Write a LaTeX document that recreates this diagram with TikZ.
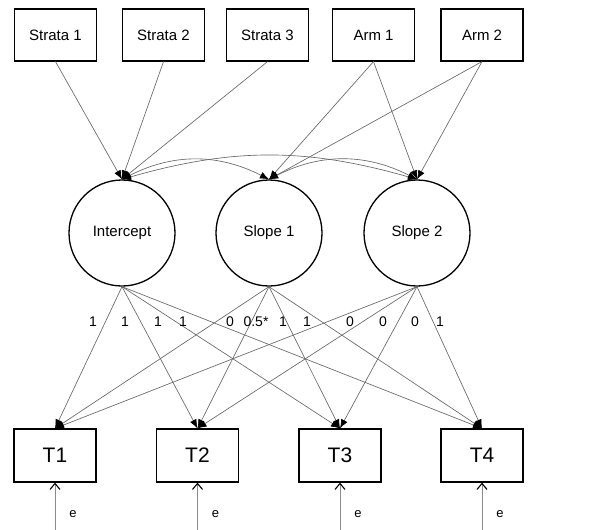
\documentclass[tikz,border=0pt]{standalone}
\usepackage{fontspec}
\setmainfont{Liberation Sans}
\usetikzlibrary{arrows.meta,calc}
\begin{document}
\begin{tikzpicture}[x=1pt,y=1pt,
  obs/.style={draw, line width=1.2pt, minimum width=82pt, minimum height=52pt, inner sep=0pt, font=\fontsize{15}{18}\selectfont},
  tobs/.style={obs, minimum height=53pt, font=\fontsize{21}{25}\selectfont},
  lat/.style={draw, circle, line width=1.3pt, minimum size=106pt, inner sep=0pt, font=\fontsize{15}{18}\selectfont},
  reg/.style={draw=black!60, line width=0.65pt, -{Latex[black,length=9pt,width=7pt]}},
  cov/.style={draw=black!60, line width=0.65pt, {Latex[black,length=9pt,width=7pt]}-{Latex[black,length=9pt,width=7pt]}},
  err/.style={draw=black!45, line width=0.8pt, -{Straight Barb[black,length=6pt,width=10pt,line width=1.1pt]}},
  lab/.style={font=\fontsize{14}{16}\selectfont, inner sep=0pt},
  elab/.style={font=\fontsize{13}{15}\selectfont, inner sep=0pt},
]
\useasboundingbox (0,0) rectangle (592,-530);
% top observed covariates
\node[obs] (S1) at (55.5,-35) {Strata 1};
\node[obs] (S2) at (163.5,-35) {Strata 2};
\node[obs] (S3) at (267.5,-35) {Strata 3};
\node[obs] (A1) at (373.5,-35) {Arm 1};
\node[obs] (A2) at (482,-35) {Arm 2};
% latent growth factors
\node[lat] (I) at (122,-233) {Intercept};
\node[lat] (L1) at (269,-233) {Slope 1};
\node[lat] (L2) at (417,-233) {Slope 2};
% time points
\node[tobs] (T1) at (55,-455.5) {T1};
\node[tobs] (T2) at (197.5,-455.5) {T2};
\node[tobs] (T3) at (340,-455.5) {T3};
\node[tobs] (T4) at (482,-455.5) {T4};
% error free ends
\coordinate (e1) at (55,-530);
\coordinate (e2) at (197.5,-530);
\coordinate (e3) at (340,-530);
\coordinate (e4) at (482,-530);
% covariate paths
\draw[reg] (S1.south) -- (I.north);
\draw[reg] (S2.south) -- (I.north);
\draw[reg] (S3.south) -- (I.north);
\draw[reg] (A1.south) -- (L1.north);
\draw[reg] (A1.south) -- (L2.north);
\draw[reg] (A2.south) -- (L1.north);
\draw[reg] (A2.south) -- (L2.north);
% covariances
\draw[cov] (I.north) to[out=27,in=153] (L1.north);
\draw[cov] (I.north) to[out=16,in=164] (L2.north);
\draw[cov] (L1.north) to[out=27,in=153] (L2.north);
% loadings
\foreach \a in {I,L1,L2}{
  \foreach \t in {T1,T2,T3,T4}{
    \draw[reg] (\a.south) -- (\t.north);
  }
}
% loading labels
\node[lab] (l1) at (93,-322) {1};
\node[lab] (l2) at (125,-322) {1};
\node[lab] (l3) at (158,-322) {1};
\node[lab] (l4) at (183,-322) {1};
\node[lab] (l5) at (230,-322) {0};
\node[lab] (l6) at (256,-322) {0.5*};
\node[lab] (l7) at (283,-322) {1};
\node[lab] (l8) at (307,-322) {1};
\node[lab] (l9) at (350,-322) {0};
\node[lab] (l10) at (383,-322) {0};
\node[lab] (l11) at (415,-322) {0};
\node[lab] (l12) at (440,-322) {1};
% errors
\foreach \i in {1,2,3,4}{
  \draw[err] (e\i) -- (T\i.south);
  \node[elab] (el\i) at ($(T\i.south)+(18,-31)$) {e};
}
\end{tikzpicture}
\end{document}
